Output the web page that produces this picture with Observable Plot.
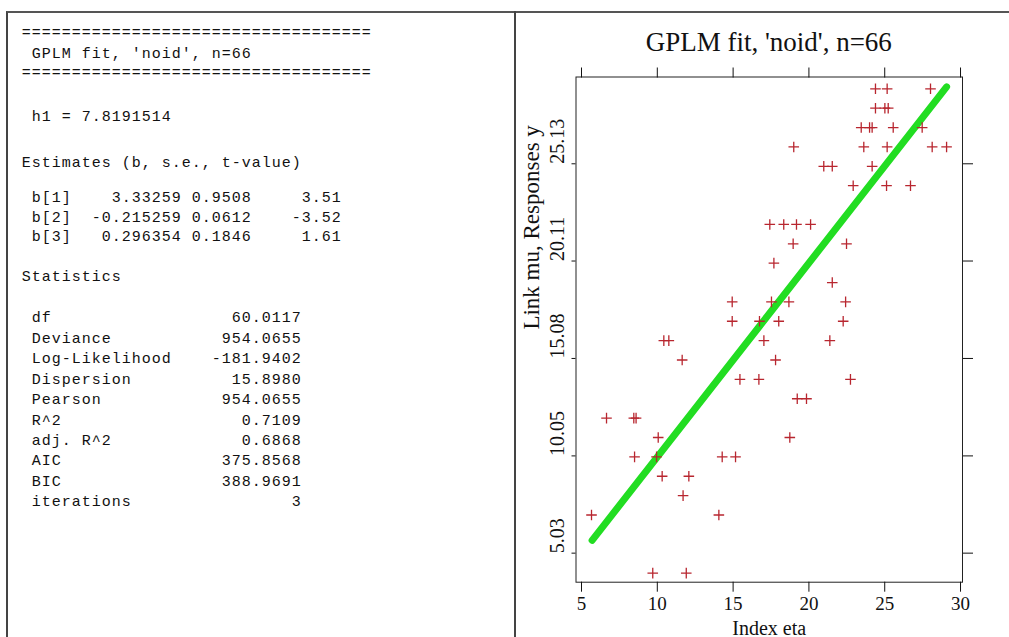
<!DOCTYPE html>
<html><head><meta charset="utf-8">
<script src="https://cdn.jsdelivr.net/npm/d3@7"></script>
<script src="https://cdn.jsdelivr.net/npm/@observablehq/plot@0.6"></script>
<style>
html,body{margin:0;padding:0;background:#fff;width:1009px;height:637px;overflow:hidden;}
#box{position:absolute;left:6px;top:11px;width:1010px;height:640px;border-left:2px solid #444;border-top:2px solid #555;box-sizing:border-box;}
#divider{position:absolute;left:514px;top:11px;width:2px;height:630px;background:#444;}
.ln{position:absolute;left:21.7px;font-family:"Liberation Mono",monospace;font-size:15px;letter-spacing:1px;line-height:20px;white-space:pre;color:#111;}
#title{position:absolute;left:575.5px;width:386.5px;top:29px;text-align:center;font-family:"Liberation Serif","Times New Roman",serif;font-size:27px;line-height:27px;color:#111;white-space:pre;}
#chart{position:absolute;left:518px;top:60px;}
</style></head><body>
<div id="box"></div>
<div id="divider"></div>
<div id="text"></div>
<div id="title"></div>
<div id="chart"></div>
<script>
// ---- text output data ----
const titleText = "GPLM fit, 'noid', n=66";
const h1Text = "h1 = 7.8191514";
const estHeader = "Estimates (b, s.e., t-value)";
const coefNames = ["b[1]", "b[2]", "b[3]"];
const coefEst = ["3.33259", "-0.215259", "0.296354"];
const coefSE = ["0.9508", "0.0612", "0.1846"];
const coefT = ["3.51", "-3.52", "1.61"];
const statHeader = "Statistics";
const statLabels = ["df", "Deviance", "Log-Likelihood", "Dispersion", "Pearson", "R^2", "adj. R^2", "AIC", "BIC", "iterations"];
const statValues = ["60.0117", "954.0655", "-181.9402", "15.8980", "954.0655", "0.7109", "0.6868", "375.8568", "388.9691", "3"];

// ---- chart data ----
const xLabel = "Index eta";
const yLabel = "Link mu, Responses y";
const xTicks = [5, 10, 15, 20, 25, 30];
const yTicks = [5.03, 10.05, 15.08, 20.11, 25.13];
const pointEta = [9.70, 11.91, 5.66, 14.06, 11.70, 10.32, 12.08, 8.50, 9.95, 14.28, 15.16,
  10.06, 18.74, 6.65, 8.45, 8.60, 19.23, 19.84, 15.45, 16.70, 22.74, 11.64, 17.80,
  10.43, 10.76, 17.03, 21.38, 14.94, 16.74, 18.01, 22.26, 14.94, 17.53, 18.68, 22.42,
  21.54, 17.69, 18.96, 22.48, 17.42, 18.34, 19.18, 20.11, 22.92, 25.12, 26.70,
  20.98, 21.54, 24.17, 19.00, 23.62, 25.16, 28.13, 29.08, 23.45, 24.00, 24.17, 25.56, 27.47,
  24.39, 25.01, 25.23, 24.39, 25.16, 28.02];
const pointY = [4, 4, 7, 7, 8, 9, 9, 10, 10, 10, 10,
  11, 11, 12, 12, 12, 13, 13, 14, 14, 14, 15, 15,
  16, 16, 16, 16, 17, 17, 17, 17, 18, 18, 18, 18,
  19, 20, 21, 21, 22, 22, 22, 22, 24, 24, 24,
  25, 25, 25, 26, 26, 26, 26, 26, 27, 27, 27, 27, 27,
  28, 28, 28, 29, 29, 29];
const lineEta = [5.70, 29.08];
const lineMu = [5.69, 29.10];

// ---- left text panel ----
const lines = [];
lines.push(["=".repeat(35), 33.3]);
lines.push([" " + titleText, 54.3]);
lines.push(["=".repeat(35), 72.5]);
lines.push([" " + h1Text, 116.7]);
lines.push([estHeader, 163]);
const bCenters = [197.5, 217.5, 237];
coefNames.forEach((n, i) => {
  lines.push([" " + n + coefEst[i].padStart(11) + " " + coefSE[i] + coefT[i].padStart(9), bCenters[i]]);
});
lines.push([statHeader, 277.3]);
statLabels.forEach((l, i) => {
  const v = statValues[i];
  lines.push([(" " + l).padEnd(28 - v.length) + v, 318.3 + i * 20.44]);
});
const tdiv = document.getElementById("text");
for (const [s, c] of lines) {
  const d = document.createElement("div");
  d.className = "ln";
  d.style.top = (c - 9) + "px";
  d.textContent = s;
  tdiv.appendChild(d);
}
document.getElementById("title").textContent = titleText;

// ---- chart ----
const points = pointEta.map((e, i) => ({eta: e, y: pointY[i]}));
const fit = lineEta.map((e, i) => ({eta: e, mu: lineMu[i]}));
const blank = () => "";
const plot = Plot.plot({
  width: 491, height: 577,
  marginLeft: 57.5, marginRight: 47, marginTop: 16.5, marginBottom: 55.3,
  x: {domain: [4.637, 30.13], label: null},
  y: {domain: [3.53, 29.61], label: null},
  style: {fontFamily: '"Liberation Serif", "Times New Roman", serif', fontSize: "19px", color: "#111", background: "transparent", overflow: "visible"},
  marks: [
    Plot.line(fit, {x: "eta", y: "mu", stroke: "#22dd22", strokeWidth: 7, strokeLinecap: "round"}),
    Plot.dot(points, {x: "eta", y: "y", symbol: "plus", r: 3.5, stroke: "#b8262f", strokeWidth: 1.3}),
    Plot.frame({stroke: "#222"}),
    Plot.axisX(xTicks, {anchor: "bottom", tickSize: 10, tickPadding: 4, fontSize: 19, label: null}),
    Plot.axisX(xTicks, {anchor: "top", tickSize: 10, tickFormat: blank, label: null}),
    Plot.axisY(yTicks, {anchor: "left", tickSize: 4, tickFormat: blank, label: null}),
    Plot.axisY(yTicks, {anchor: "right", tickSize: 10, tickFormat: blank, label: null}),
    Plot.text(yTicks, {y: d => d, frameAnchor: "left", text: d => d.toFixed(2), rotate: -90, dx: -18, lineAnchor: "middle", fontSize: 20}),
    Plot.text([xLabel], {frameAnchor: "bottom", text: d => d, dy: 46, lineAnchor: "middle", fontSize: 20}),
    Plot.text([yLabel], {frameAnchor: "left", text: d => d, rotate: -90, dx: -44.5, lineAnchor: "middle", fontSize: 23})
  ]
});
document.getElementById("chart").appendChild(plot);
</script>
</body></html>
